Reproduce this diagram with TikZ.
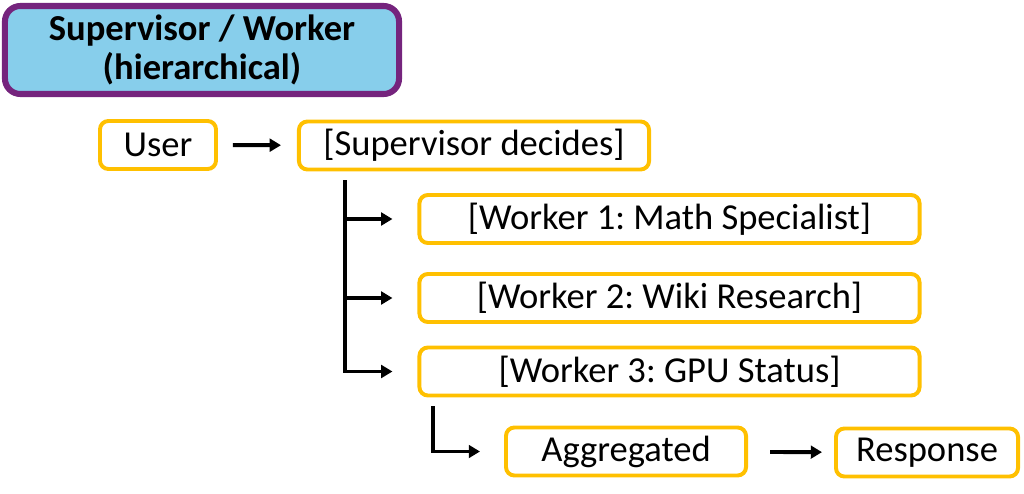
\documentclass[tikz,border=0pt]{standalone}
\usepackage{fontspec}
\setmainfont{Carlito}
\usetikzlibrary{arrows.meta}
\frenchspacing

\definecolor{gold}{RGB}{255,192,0}
\definecolor{plum}{RGB}{117,36,125}
\definecolor{sky}{RGB}{135,206,235}

\begin{document}
\begin{tikzpicture}[x=0.025cm,y=-0.025cm,
  box/.style={draw=gold, line width=2.8pt, rounded corners=6pt, fill=white,
    minimum height=1.2cm, inner sep=0pt, font=\fontsize{26}{30}\selectfont},
  title/.style={draw=plum, line width=4.3pt, rounded corners=11pt, fill=sky,
    minimum width=9.85cm, minimum height=2.2cm, align=center,
    font=\fontsize{26}{28}\selectfont\bfseries},
  conn/.style={line width=2.8pt, -{Triangle[length=8pt,width=9pt]}}]

\useasboundingbox (0,0) rectangle (1024,493);

\node[title] (head) at (202,50) {Supervisor / Worker\\(hierarchical)};

\node[box, minimum width=2.9cm] (user) at (158,145) {User};
\node[box, minimum width=8.75cm] (sup) at (474,145.5) {[Supervisor decides]};
\node[box, minimum width=12.5cm] (w1) at (669.5,219) {[Worker 1: Math Specialist]};
\node[box, minimum width=12.5cm] (w2) at (669.5,298) {[Worker 2: Wiki Research]};
\node[box, minimum width=12.5cm] (w3) at (669.5,371.5) {[Worker 3: GPU Status]};
\node[box, minimum width=6cm] (agg) at (626,451.5) {Aggregated};
\node[box, minimum width=4.55cm] (resp) at (927,452.5) {Response};

\coordinate (trunk) at (345,180);
\coordinate (fork) at (433,406);

\draw[conn, shorten <=0.375cm, shorten >=0.4cm] (user) -- (sup);
\draw[conn, shorten >=0.625cm] (trunk) |- (w3.west);
\draw[conn, shorten >=0.625cm] (trunk |- w1.west) -- (w1.west);
\draw[conn, shorten >=0.625cm] (trunk |- w2.west) -- (w2.west);
\draw[conn, shorten >=0.6cm] (fork) |- (agg.west);
\draw[conn, shorten <=0.55cm, shorten >=0.3cm] (agg) -- (resp);

\end{tikzpicture}
\end{document}
